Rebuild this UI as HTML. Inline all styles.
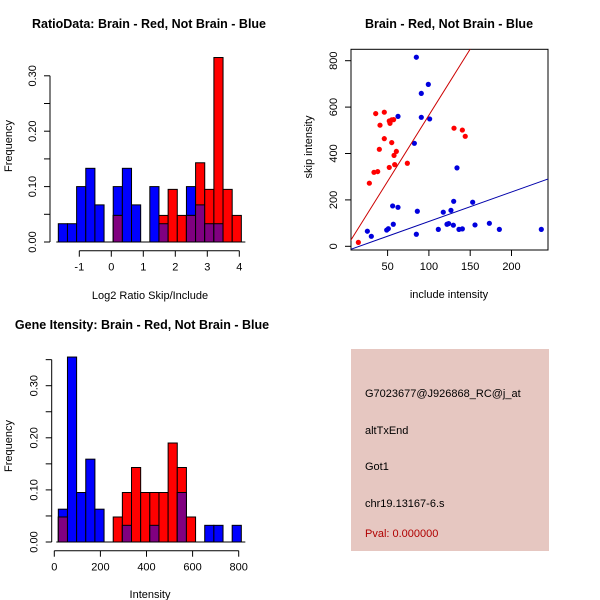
<!DOCTYPE html>
<html><head><meta charset="utf-8"><style>
body{margin:0;background:#fff}
svg{display:block;font-family:"Liberation Sans",sans-serif}
</style></head><body>
<svg id="c" width="600" height="600" viewBox="0 0 600 600">
<rect width="600" height="600" fill="#fff"/>
<text x="149" y="28" font-size="12.5" font-weight="bold" text-anchor="middle">RatioData: Brain - Red, Not Brain - Blue</text>
<text x="449" y="28" font-size="12.5" font-weight="bold" text-anchor="middle">Brain - Red, Not Brain - Blue</text>
<text x="142" y="329" font-size="12.5" font-weight="bold" text-anchor="middle">Gene Itensity: Brain - Red, Not Brain - Blue</text>
<text x="150" y="299" font-size="11" text-anchor="middle">Log2 Ratio Skip/Include</text>
<text x="449" y="298" font-size="11" text-anchor="middle">include intensity</text>
<text x="150" y="598" font-size="11" text-anchor="middle">Intensity</text>
<text transform="translate(12,146) rotate(-90)" font-size="11" text-anchor="middle">Frequency</text>
<text transform="translate(312,147) rotate(-90)" font-size="11" text-anchor="middle">skip intensity</text>
<text transform="translate(12,446) rotate(-90)" font-size="11" text-anchor="middle">Frequency</text>
<g>
<rect x="351" y="349" width="198" height="202" fill="#e6c7c1"/>
<text x="365" y="397" font-size="11">G7023677@J926868_RC@j_at</text>
<text x="365" y="434" font-size="11">altTxEnd</text>
<text x="365" y="470" font-size="11">Got1</text>
<text x="365" y="507" font-size="11">chr19.13167-6.s</text>
<text x="365" y="537" font-size="11" fill="#b00000">Pval: 0.000000</text>
</g>
</svg>
<script>
// Histogram 1 data
const ratioBlue=[0.033,0.033,0.1,0.133,0.067,0,0.1,0.133,0.067,0,0.1,0.033,0,0,0.1,0.067,0.033,0.033,0,0];
const ratioRed=[0,0,0,0,0,0,0.048,0,0,0,0,0.048,0.095,0.048,0.048,0.143,0.095,0.333,0.095,0.048];
const ratioXTicks=[-1,0,1,2,3,4];
const ratioYTicks=[0,0.1,0.2,0.3];
const ratioYLabels=["0.00","0.10","0.20","0.30"];
// Histogram 2 data
const intBlue=[0.063,0.355,0.095,0.159,0.063,0,0,0.032,0,0,0.032,0,0,0.095,0,0,0.032,0.032,0,0.032];
const intRed=[0.048,0,0,0,0,0,0.048,0.095,0.143,0.095,0.095,0.095,0.19,0.143,0.048,0,0,0,0,0];
const intXTicks=[0,200,400,600,800];
const intYTicks=[0,0.1,0.2,0.3];
const intYLabels=["0.00","0.10","0.20","0.30"];
// Scatter data
const redX=[14.6,27.9,33.5,38,35.6,46,40.8,40,46,52,52.9,55,57.3,55,60.6,57.8,58.6,52,73.9,130.4,140.5,144];
const redY=[17,272,319,322,572,578,522,418,464,540,530,545,546,447,409,392,352,340,358,509,501,474];
const blueX=[84.8,90.8,99.3,90.8,100.9,62.6,82.4,134,56.1,62.6,86,130,153,117.4,25.5,30.3,48.9,50.9,56.9,84.8,111.4,121.9,123.9,129.6,136.4,140.5,126.7,155.8,173.2,185.3,236.1];
const blueY=[815,659,698,556,549,560,444,338,174,168,151,194,190,147,65,43,70,76,95,52,73,95,98,91,73,75,155,92,99,73,73];
const redFit=[-5,5.7];
const blueFit=[-20,1.27];
const scXTicks=[50,100,150,200];
const scYTicks=[0,200,400,600,800];

const S=document.getElementById('c');
const NS='http://www.w3.org/2000/svg';
function mk(tag,a){const e=document.createElementNS(NS,tag);for(const k in a)e.setAttribute(k,a[k]);S.appendChild(e);return e;}

function hist(blue,red,x0,binW,sx,y0,sy,xTicks,yTicks,yLabels,axY,axX,pre,yMax){
  const X=v=>sx(v), Y=v=>y0-v*sy;
  for(let i=0;i<blue.length;i++){
    const l=X(x0+i*binW), r=X(x0+(i+1)*binW);
    const b=blue[i], rd=red[i];
    if(b>0){const e=mk('rect',{x:l,y:Y(b),width:r-l,height:Y(0)-Y(b),fill:'#0000ff',stroke:'#000','stroke-width':1});
      
      }
    if(rd>0){const e=mk('rect',{x:l,y:Y(rd),width:r-l,height:Y(0)-Y(rd),fill:'#ff0000',stroke:'#000','stroke-width':1});
      
      }
    if(b>0&&rd>0){const m=Math.min(b,rd);const e=mk('rect',{x:l,y:Y(m),width:r-l,height:Y(0)-Y(m),fill:'#800080',stroke:'#000','stroke-width':1});
      
      }
  }
  const ya=mk('line',{x1:axX,x2:axX,y1:Y(0),y2:Y(yMax),stroke:'#000'});
  
  
  for(let k=0;k*0.05<=yMax+0.001;k++){const v=k*0.05;mk('line',{x1:axX-6,x2:axX,y1:Y(v),y2:Y(v),stroke:'#000'});}
  yTicks.forEach((v,i)=>{const t=mk('text',{transform:`translate(${axX-14},${Y(v)}) rotate(-90)`,'font-size':11,'text-anchor':'middle'});t.textContent=yLabels[i];
    
    });
  const xa=mk('line',{x1:X(xTicks[0]),x2:X(xTicks[xTicks.length-1]),y1:axY,y2:axY,stroke:'#000'});
  
  
  xTicks.forEach(v=>{mk('line',{x1:X(v),x2:X(v),y1:axY,y2:axY+6,stroke:'#000'});
    const t=mk('text',{x:X(v),y:axY+20,'font-size':11,'text-anchor':'middle'});t.textContent=v;
    
    });
  mk('line',{x1:X(x0)-2,x2:X(x0+blue.length*binW)+4,y1:Y(0),y2:Y(0),stroke:'#000'});
}
hist(ratioBlue,ratioRed,-1.656,0.286,v=>111.3+v*32,242,554,ratioXTicks,ratioYTicks,ratioYLabels,250.7,50,'ratio',0.3);
hist(intBlue,intRed,17.4,39.7,v=>54.3+v*0.2305,542,521,intXTicks,intYTicks,intYLabels,550.7,51.7,'intensity',0.35);

// scatter
const SX=v=>346.3+v*0.826, SY=v=>246.3-v*0.232;
const clip=mk('clipPath',{id:'sc'});
const cr=document.createElementNS(NS,'rect');
cr.setAttribute('x',351);cr.setAttribute('y',49.3);cr.setAttribute('width',197);cr.setAttribute('height',200.7);
clip.appendChild(cr);
const box=mk('rect',{x:351,y:49.3,width:197,height:200.7,fill:'none',stroke:'#000'});


redX.forEach((x,i)=>{const c=mk('circle',{cx:SX(x),cy:SY(redY[i]),r:2.6,fill:'#ff0000'});
  
  });
blueX.forEach((x,i)=>{const c=mk('circle',{cx:SX(x),cy:SY(blueY[i]),r:2.6,fill:'#0000dd'});
  
  });
const xa0=0,xa1=250;
const rl=mk('line',{x1:SX(xa0),y1:SY(redFit[0]+redFit[1]*xa0),x2:SX(xa1),y2:SY(redFit[0]+redFit[1]*xa1),stroke:'#cc0000','clip-path':'url(#sc)'});


const bl=mk('line',{x1:SX(xa0),y1:SY(blueFit[0]+blueFit[1]*xa0),x2:SX(xa1),y2:SY(blueFit[0]+blueFit[1]*xa1),stroke:'#0000aa','clip-path':'url(#sc)'});


scXTicks.forEach(v=>{mk('line',{x1:SX(v),x2:SX(v),y1:250,y2:256,stroke:'#000'});
  const t=mk('text',{x:SX(v),y:270,'font-size':11,'text-anchor':'middle'});t.textContent=v;
  
  });
scYTicks.forEach(v=>{mk('line',{x1:345,x2:351,y1:SY(v),y2:SY(v),stroke:'#000'});
  const t=mk('text',{transform:`translate(337,${SY(v)}) rotate(-90)`,'font-size':11,'text-anchor':'middle'});t.textContent=v;
  
  });
</script>
</body></html>
